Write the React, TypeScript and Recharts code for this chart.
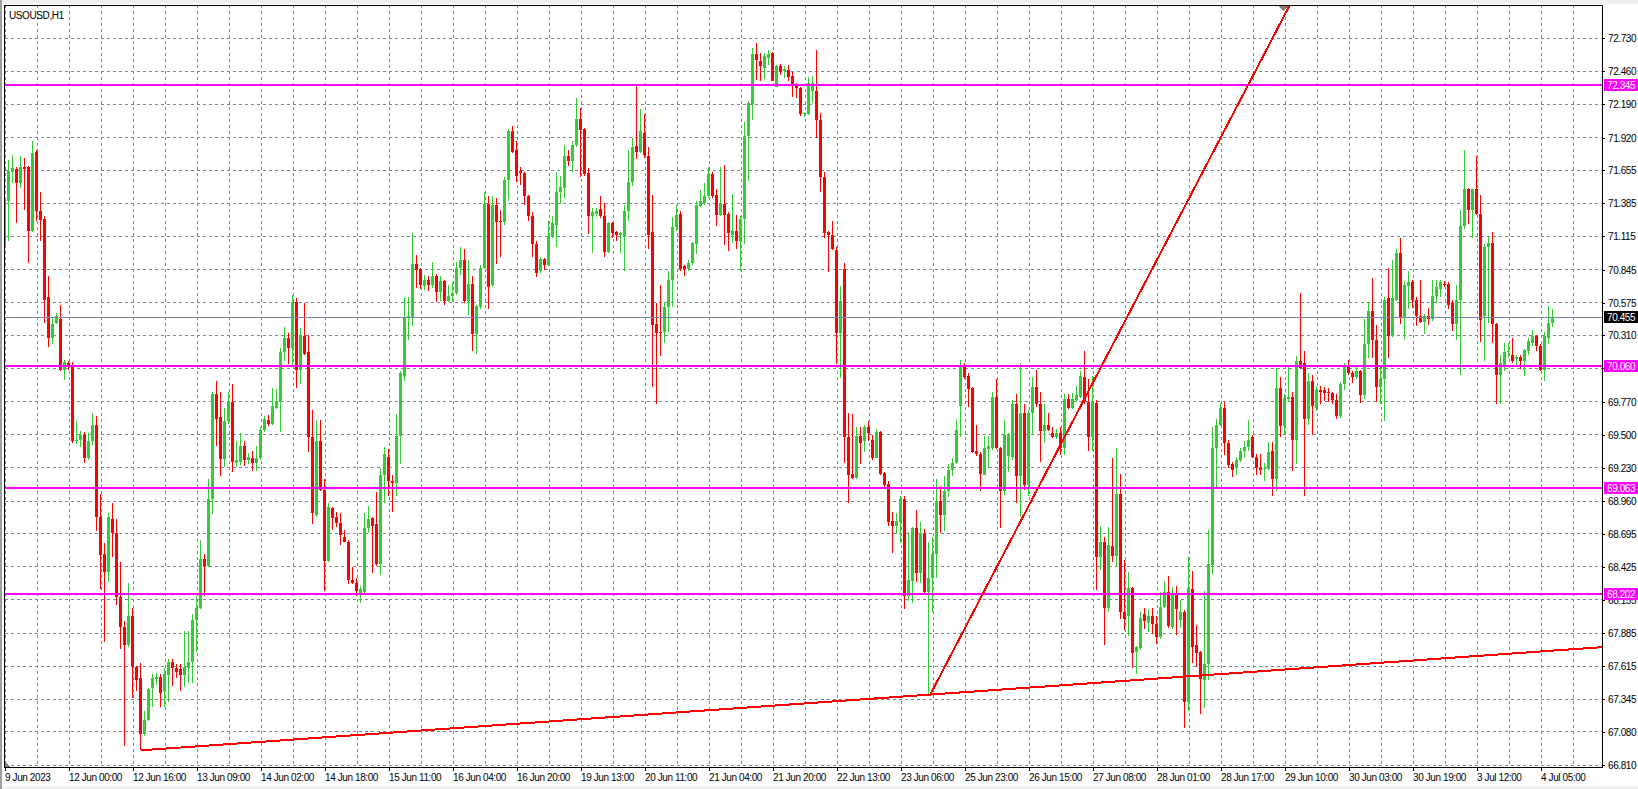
import { ComposedChart, Bar, XAxis, YAxis, CartesianGrid, ReferenceLine } from "recharts"

type OHLC = [number, number, number, number]

// hourly candles, [open, high, low, close]
const candlesA: OHLC[] = [
  [71.03, 71.46, 70.83, 71.43], [71.40, 71.74, 71.08, 71.65], [71.64, 71.78, 71.55, 71.67], [71.66, 71.68, 71.22, 71.55],
  [71.55, 71.77, 71.51, 71.68], [71.68, 71.75, 71.33, 71.66], [71.68, 71.69, 70.90, 71.16], [71.16, 71.89, 71.15, 71.79],
  [71.80, 71.82, 71.24, 71.32], [71.32, 71.48, 71.08, 71.25], [71.26, 71.28, 70.41, 70.60], [70.62, 70.79, 70.21, 70.29],
  [70.29, 70.45, 70.24, 70.40], [70.41, 70.49, 70.40, 70.47], [70.44, 70.56, 70.02, 70.03], [70.03, 70.11, 69.95, 70.09],
  [70.08, 70.10, 70.03, 70.06], [70.07, 70.09, 69.43, 69.45], [69.45, 69.61, 69.42, 69.46], [69.46, 69.53, 69.40, 69.50],
  [69.50, 69.52, 69.27, 69.31], [69.31, 69.51, 69.29, 69.45], [69.45, 69.68, 69.42, 69.58], [69.58, 69.65, 68.71, 68.83],
  [68.83, 69.02, 68.25, 68.52], [68.53, 68.62, 67.81, 68.38], [68.38, 68.86, 68.30, 68.83], [68.81, 68.94, 68.50, 68.70],
  [68.70, 68.81, 68.11, 68.18], [68.18, 68.46, 67.75, 67.93], [67.93, 67.98, 66.96, 67.79], [67.79, 68.29, 67.77, 68.02],
  [68.02, 68.09, 67.36, 67.61], [67.61, 67.62, 67.42, 67.50], [67.52, 67.64, 66.93, 67.06], [67.06, 67.25, 67.05, 67.18],
  [67.18, 67.44, 67.17, 67.43], [67.44, 67.55, 67.28, 67.52], [67.51, 67.56, 67.46, 67.53], [67.53, 67.55, 67.28, 67.40],
  [67.41, 67.60, 67.28, 67.55], [67.54, 67.67, 67.32, 67.65], [67.65, 67.67, 67.45, 67.60], [67.60, 67.63, 67.52, 67.57],
  [67.59, 67.63, 67.41, 67.54], [67.54, 67.90, 67.44, 67.61], [67.60, 67.90, 67.48, 67.65], [67.65, 68.04, 67.48, 67.99],
]

const candlesB: OHLC[] = [
  [67.99, 68.19, 67.73, 68.09], [68.09, 68.64, 68.08, 68.49], [68.49, 68.53, 68.19, 68.43], [68.43, 69.14, 68.42, 68.98],
  [68.98, 69.85, 68.86, 69.83], [69.83, 69.94, 69.41, 69.63], [69.64, 69.85, 69.17, 69.30], [69.30, 69.72, 69.24, 69.61],
  [69.61, 69.85, 69.59, 69.77], [69.77, 69.91, 69.19, 69.28], [69.27, 69.45, 69.24, 69.29], [69.28, 69.51, 69.25, 69.41],
  [69.41, 69.45, 69.25, 69.29], [69.29, 69.35, 69.26, 69.32], [69.31, 69.37, 69.21, 69.27], [69.27, 69.41, 69.21, 69.31],
  [69.31, 69.56, 69.29, 69.54], [69.54, 69.65, 69.52, 69.63], [69.62, 69.66, 69.57, 69.59], [69.59, 69.88, 69.58, 69.73],
  [69.72, 69.87, 69.71, 69.77], [69.77, 70.21, 69.53, 70.17], [70.17, 70.38, 70.10, 70.29], [70.29, 70.33, 70.08, 70.21],
  [70.21, 70.64, 70.06, 70.58], [70.58, 70.61, 69.88, 70.03], [70.03, 70.37, 69.91, 70.30], [70.30, 70.57, 70.15, 70.16],
  [70.17, 70.31, 69.36, 69.48], [69.48, 69.70, 68.77, 68.86], [68.85, 69.62, 68.83, 69.45], [69.45, 69.62, 69.04, 69.05],
  [69.05, 69.14, 68.23, 68.47], [68.47, 68.94, 68.46, 68.91], [68.90, 68.91, 68.72, 68.82], [68.83, 68.87, 68.75, 68.78],
  [68.78, 68.86, 68.60, 68.68], [68.67, 68.72, 68.62, 68.63], [68.63, 68.64, 68.28, 68.32], [68.32, 68.42, 68.28, 68.29],
  [68.29, 68.33, 68.18, 68.23], [68.21, 68.27, 68.13, 68.24], [68.22, 68.86, 68.21, 68.74], [68.74, 68.92, 68.70, 68.81],
  [68.82, 68.83, 68.37, 68.76], [68.77, 69.03, 68.43, 68.45], [68.45, 69.23, 68.36, 69.17], [69.17, 69.40, 68.94, 69.34],
]

const candlesC: OHLC[] = [
  [69.32, 69.38, 69.00, 69.12], [69.12, 69.17, 68.87, 69.11], [69.11, 69.67, 69.00, 69.49], [69.49, 70.02, 69.26, 70.00],
  [69.98, 70.62, 69.94, 70.46], [70.46, 70.62, 70.27, 70.47], [70.46, 71.14, 70.38, 70.89], [70.89, 70.96, 70.69, 70.84],
  [70.85, 70.86, 70.69, 70.72], [70.71, 70.80, 70.68, 70.76], [70.76, 70.79, 70.67, 70.72], [70.72, 70.91, 70.70, 70.79],
  [70.79, 70.81, 70.58, 70.66], [70.66, 70.79, 70.59, 70.75], [70.75, 70.76, 70.56, 70.59], [70.59, 70.72, 70.58, 70.63],
  [70.63, 70.74, 70.58, 70.65], [70.65, 70.91, 70.64, 70.86], [70.86, 71.03, 70.80, 70.92], [70.92, 71.01, 70.57, 70.59],
  [70.59, 70.92, 70.47, 70.73], [70.73, 70.79, 70.18, 70.32], [70.32, 70.56, 70.16, 70.55], [70.54, 70.88, 70.52, 70.86],
  [70.86, 71.48, 70.85, 71.38], [71.38, 71.44, 70.52, 70.70], [70.72, 71.44, 70.70, 71.37], [71.37, 71.43, 70.89, 71.23],
  [71.24, 71.33, 70.95, 71.23], [71.23, 71.60, 71.21, 71.57], [71.57, 71.99, 71.40, 71.97], [71.97, 72.01, 71.79, 71.80],
  [71.82, 71.89, 71.56, 71.61], [71.65, 71.68, 71.53, 71.63], [71.63, 71.64, 71.37, 71.44], [71.44, 71.45, 71.24, 71.28],
  [71.28, 71.31, 70.94, 71.05], [71.05, 71.08, 70.79, 70.82], [70.83, 70.95, 70.82, 70.93], [70.93, 70.94, 70.84, 70.88],
  [70.88, 71.24, 70.87, 71.12], [71.11, 71.28, 71.10, 71.22], [71.21, 71.64, 71.03, 71.48], [71.48, 71.61, 71.38, 71.52],
  [71.51, 71.86, 71.43, 71.77], [71.77, 71.82, 71.69, 71.73], [71.73, 71.89, 71.64, 71.86], [71.86, 72.24, 71.84, 72.07],
]

const candlesD: OHLC[] = [
  [72.07, 72.16, 71.60, 71.98], [71.99, 72.00, 71.61, 71.62], [71.63, 71.67, 71.13, 71.28], [71.28, 71.35, 70.98, 71.31],
  [71.30, 71.35, 71.28, 71.32], [71.34, 71.44, 71.26, 71.28], [71.28, 71.39, 70.95, 70.99], [70.99, 71.23, 70.98, 71.22],
  [71.22, 71.23, 71.10, 71.14], [71.15, 71.16, 71.08, 71.13], [71.13, 71.15, 70.98, 71.14], [71.11, 71.37, 70.83, 71.32],
  [71.32, 71.82, 71.24, 71.56], [71.56, 71.92, 71.53, 71.84], [71.85, 72.35, 71.75, 71.80], [71.80, 72.15, 71.79, 71.97],
  [71.96, 72.11, 71.75, 71.78], [71.77, 71.84, 71.01, 71.13], [71.15, 71.45, 69.89, 70.39], [70.40, 70.57, 69.75, 70.33],
  [70.34, 70.72, 70.14, 70.33], [70.34, 70.58, 70.25, 70.54], [70.54, 70.83, 70.33, 70.76], [70.76, 71.27, 70.54, 71.19],
  [71.19, 71.37, 71.16, 71.29], [71.30, 71.32, 70.83, 70.85], [70.87, 70.88, 70.79, 70.85], [70.85, 70.92, 70.83, 70.90],
  [70.90, 71.07, 70.88, 71.06], [71.05, 71.40, 70.97, 71.37], [71.36, 71.49, 71.35, 71.40], [71.39, 71.55, 71.37, 71.44],
  [71.44, 71.68, 71.43, 71.62], [71.62, 71.64, 71.43, 71.44], [71.45, 71.50, 71.20, 71.29], [71.29, 71.68, 71.28, 71.38],
  [71.38, 71.70, 71.05, 71.29], [71.30, 71.31, 70.99, 71.14], [71.13, 71.46, 71.06, 71.16], [71.16, 71.29, 71.01, 71.08],
  [71.08, 71.28, 70.83, 71.26], [71.26, 72.05, 71.06, 71.93], [71.93, 72.22, 71.57, 72.20], [72.19, 72.65, 72.06, 72.60],
  [72.60, 72.69, 72.39, 72.55], [72.54, 72.61, 72.38, 72.50], [72.49, 72.61, 72.40, 72.58], [72.57, 72.63, 72.51, 72.60],
]

const candlesE: OHLC[] = [
  [72.61, 72.62, 72.38, 72.38], [72.33, 72.51, 72.33, 72.50], [72.50, 72.52, 72.43, 72.45], [72.46, 72.50, 72.40, 72.48],
  [72.47, 72.51, 72.38, 72.41], [72.42, 72.45, 72.25, 72.34], [72.34, 72.36, 72.24, 72.32], [72.32, 72.33, 72.09, 72.11],
  [72.11, 72.13, 72.09, 72.12], [72.11, 72.41, 72.10, 72.36], [72.30, 72.42, 72.20, 72.36], [72.30, 72.63, 71.91, 72.06],
  [72.06, 72.12, 71.48, 71.60], [71.60, 71.64, 71.10, 71.14], [71.15, 71.16, 70.83, 71.13], [71.13, 71.24, 71.00, 71.01],
  [71.00, 71.03, 70.08, 70.33], [70.33, 70.71, 69.96, 70.59], [70.85, 70.90, 69.27, 69.48], [69.48, 69.68, 68.95, 69.17],
  [69.18, 69.67, 69.14, 69.15], [69.15, 69.56, 69.14, 69.49], [69.49, 69.56, 69.26, 69.43], [69.45, 69.58, 69.36, 69.56],
  [69.56, 69.61, 69.45, 69.51], [69.46, 69.50, 69.30, 69.31], [69.31, 69.55, 69.31, 69.52], [69.52, 69.53, 69.17, 69.18],
  [69.19, 69.20, 69.06, 69.09], [69.10, 69.12, 68.75, 68.79], [68.80, 68.87, 68.54, 68.76], [68.76, 68.86, 68.69, 68.80],
  [68.79, 69.00, 68.62, 68.98], [68.98, 69.00, 68.08, 68.19], [68.19, 68.71, 68.15, 68.32], [68.31, 68.75, 68.13, 68.74],
  [68.74, 68.89, 68.30, 68.37], [68.37, 68.79, 68.29, 68.70], [68.70, 68.73, 68.19, 68.22], [68.22, 68.63, 67.38, 68.33],
  [68.33, 68.67, 68.06, 68.53], [68.53, 69.14, 68.33, 68.96], [68.96, 69.08, 68.70, 68.85], [68.85, 69.16, 68.71, 69.04],
  [69.04, 69.26, 68.99, 69.21], [69.21, 69.31, 69.16, 69.27], [69.27, 69.63, 69.26, 69.54], [69.73, 70.11, 69.48, 70.06],
]

const candlesF: OHLC[] = [
  [70.06, 70.08, 69.95, 69.97], [69.98, 70.00, 69.72, 69.87], [69.88, 69.89, 69.35, 69.36], [69.37, 69.58, 69.33, 69.34],
  [69.34, 69.36, 69.04, 69.18], [69.17, 69.49, 69.17, 69.39], [69.38, 69.49, 69.23, 69.41], [69.39, 69.85, 69.38, 69.81],
  [69.81, 69.95, 69.38, 69.39], [69.39, 69.40, 68.74, 69.04], [69.04, 69.62, 69.01, 69.50], [69.33, 69.51, 69.19, 69.50],
  [69.32, 69.78, 69.29, 69.75], [69.75, 69.83, 68.94, 69.16], [69.16, 70.08, 68.83, 69.68], [69.68, 69.75, 69.05, 69.09],
  [69.09, 69.70, 69.00, 69.68], [69.68, 69.97, 69.50, 69.89], [69.89, 70.03, 69.73, 69.75], [69.75, 69.85, 69.28, 69.53],
  [69.53, 69.75, 69.43, 69.58], [69.58, 69.68, 69.53, 69.54], [69.51, 69.56, 69.47, 69.48], [69.48, 69.55, 69.47, 69.51],
  [69.51, 69.56, 69.33, 69.39], [69.39, 69.83, 69.33, 69.79], [69.79, 69.83, 69.71, 69.72], [69.72, 69.84, 69.71, 69.79],
  [69.78, 69.90, 69.77, 69.82], [69.81, 70.02, 69.80, 69.98], [69.97, 70.18, 69.75, 69.77], [69.77, 69.95, 69.36, 69.48],
  [69.48, 69.98, 69.37, 69.77], [69.76, 69.78, 68.23, 68.50], [68.50, 68.76, 68.40, 68.63], [68.63, 68.67, 67.79, 68.09],
  [68.09, 68.75, 68.06, 68.60], [68.59, 69.31, 68.46, 68.51], [68.51, 69.39, 68.42, 69.02], [69.02, 69.18, 68.00, 68.06],
  [68.06, 68.48, 67.91, 68.00], [68.02, 68.38, 67.86, 68.25], [68.25, 68.26, 67.60, 67.72], [67.73, 67.78, 67.55, 67.77],
  [67.76, 68.06, 67.75, 68.01], [68.04, 68.09, 67.92, 67.98], [67.97, 68.08, 67.89, 68.02], [68.02, 68.09, 67.88, 67.96],
]

const candlesG: OHLC[] = [
  [67.96, 68.02, 67.79, 67.85], [67.85, 68.22, 67.84, 68.10], [68.10, 68.31, 68.09, 68.22], [68.22, 68.35, 67.93, 67.94],
  [67.93, 68.26, 67.92, 68.20], [68.20, 68.27, 67.87, 68.08], [67.99, 68.15, 67.92, 68.06], [68.06, 68.07, 67.11, 67.32],
  [67.32, 68.50, 67.25, 68.25], [68.24, 68.39, 67.64, 67.77], [67.79, 67.95, 67.61, 67.72], [67.73, 67.74, 67.23, 67.51],
  [67.50, 68.23, 67.28, 67.63], [67.63, 68.72, 67.50, 68.45], [68.44, 69.56, 68.36, 69.39], [69.39, 69.63, 69.08, 69.58],
  [69.58, 69.76, 69.57, 69.72], [69.72, 69.77, 69.34, 69.43], [69.43, 69.46, 69.23, 69.25], [69.26, 69.28, 69.16, 69.21],
  [69.23, 69.32, 69.17, 69.29], [69.29, 69.39, 69.28, 69.37], [69.37, 69.45, 69.31, 69.40], [69.40, 69.62, 69.37, 69.46],
  [69.48, 69.50, 69.31, 69.32], [69.32, 69.34, 69.17, 69.23], [69.23, 69.34, 69.17, 69.21], [69.22, 69.27, 69.12, 69.23],
  [69.22, 69.44, 69.21, 69.36], [69.37, 69.44, 69.00, 69.14], [69.14, 70.04, 69.04, 69.88], [69.88, 69.97, 69.48, 69.57],
  [69.57, 69.83, 69.50, 69.80], [69.79, 70.07, 69.77, 69.81], [69.81, 69.85, 69.21, 69.46], [69.46, 70.14, 69.26, 70.10],
  [70.10, 70.65, 70.03, 70.04], [70.08, 70.18, 69.00, 69.63], [69.63, 70.00, 69.58, 69.94], [69.94, 69.99, 69.50, 69.73],
  [69.72, 69.90, 69.70, 69.86], [69.86, 69.90, 69.75, 69.85], [69.86, 69.89, 69.78, 69.84], [69.85, 69.88, 69.77, 69.84],
  [69.84, 69.85, 69.75, 69.78], [69.78, 69.83, 69.63, 69.65], [69.65, 69.93, 69.64, 69.91], [69.91, 70.08, 69.86, 70.06],
]

const candlesH: OHLC[] = [
  [70.06, 70.11, 69.99, 70.00], [70.00, 70.02, 69.92, 69.97], [69.97, 70.05, 69.95, 70.02], [70.02, 70.03, 69.76, 69.82],
  [69.82, 70.44, 69.79, 70.24], [70.24, 70.58, 70.12, 70.51], [70.51, 70.78, 70.13, 70.27], [70.27, 70.39, 69.76, 69.89],
  [69.89, 70.06, 69.75, 69.95], [69.95, 70.62, 69.61, 70.60], [70.61, 70.86, 70.13, 70.30], [70.30, 70.92, 70.29, 70.61],
  [70.60, 71.01, 70.59, 70.98], [70.98, 71.10, 70.40, 70.46], [70.46, 70.75, 70.27, 70.72], [70.71, 70.83, 70.52, 70.74],
  [70.74, 70.76, 70.53, 70.60], [70.60, 70.62, 70.38, 70.47], [70.47, 70.76, 70.41, 70.42], [70.42, 70.48, 70.32, 70.47],
  [70.47, 70.53, 70.39, 70.44], [70.44, 70.76, 70.43, 70.63], [70.63, 70.76, 70.57, 70.70], [70.69, 70.76, 70.62, 70.74],
  [70.73, 70.75, 70.70, 70.72], [70.73, 70.74, 70.52, 70.56], [70.57, 70.60, 70.35, 70.40], [70.40, 70.72, 70.27, 70.60],
  [70.60, 71.33, 69.99, 71.20], [71.20, 71.82, 71.18, 71.50], [71.50, 71.51, 71.22, 71.33], [71.33, 71.50, 71.10, 71.50],
  [71.50, 71.77, 71.29, 71.30], [71.30, 71.45, 70.25, 70.43], [70.47, 71.05, 70.10, 71.03], [71.03, 71.12, 70.41, 71.06],
  [71.06, 71.15, 70.25, 70.40], [70.40, 70.41, 69.75, 69.99], [69.99, 70.15, 69.75, 70.08], [70.07, 70.25, 70.02, 70.17],
  [70.17, 70.25, 70.13, 70.18], [70.15, 70.29, 70.09, 70.10], [70.12, 70.15, 70.06, 70.13], [70.13, 70.15, 70.04, 70.10],
  [70.10, 70.20, 69.98, 70.19], [70.18, 70.29, 70.15, 70.26], [70.25, 70.35, 70.22, 70.30], [70.30, 70.31, 70.18, 70.22],
  [70.22, 70.24, 70.02, 70.03], [70.03, 70.34, 69.94, 70.30], [70.29, 70.55, 70.24, 70.41], [70.41, 70.52, 70.37, 70.455],
]

const timeLabels = [
  "9 Jun 2023", "12 Jun 00:00", "12 Jun 16:00", "13 Jun 09:00", "14 Jun 02:00", "14 Jun 18:00",
  "15 Jun 11:00", "16 Jun 04:00", "16 Jun 20:00", "19 Jun 13:00", "20 Jun 11:00", "21 Jun 04:00",
  "21 Jun 20:00", "22 Jun 13:00", "23 Jun 06:00", "25 Jun 23:00", "26 Jun 15:00", "27 Jun 08:00",
  "28 Jun 01:00", "28 Jun 17:00", "29 Jun 10:00", "30 Jun 03:00", "30 Jun 19:00", "3 Jul 12:00", "4 Jul 05:00",
]

const priceTicks = [
  72.73, 72.46, 72.19, 71.92, 71.655, 71.385, 71.115, 70.845, 70.575, 70.31, 70.04, 69.77,
  69.5, 69.23, 68.96, 68.695, 68.425, 68.155, 67.885, 67.615, 67.345, 67.08, 66.81,
]

const levels = [72.345, 70.06, 69.063, 68.202]
const bid = 70.455

// trend lines, anchored at (bar index, price)
const supportLine = [{ x: 34, y: 66.93 }, { x: 399.25, y: 67.77 }]
const steepLine = [{ x: 231.25, y: 67.38 }, { x: 321.2, y: 72.999 }]

const BARS_PER_LABEL = 16
const BARS_PER_GRID = 8

const candles = [
  ...candlesA, ...candlesB, ...candlesC, ...candlesD,
  ...candlesE, ...candlesF, ...candlesG, ...candlesH,
]
const data = candles.map(([o, h, l, c], i) => ({ i, o, h, l, c, range: [l, h] }))

const gridTicks: number[] = []
for (let b = 0; b <= 392; b += BARS_PER_GRID) gridTicks.push(b)

// price tags go after the plain ticks so they are drawn on top of them
const yTicks = [...priceTicks, bid, ...levels]

const axisFont = {
  fontFamily: '"Liberation Sans", Arial, sans-serif',
  fontSize: 10,
  letterSpacing: -0.4,
}

function Candle(props: any) {
  const { x, y, width, height, payload } = props
  if (x == null || !payload) return null
  const { o, h, l, c } = payload
  const top = Math.min(y, y + height)
  const hgt = Math.abs(height)
  const span = h - l
  const py = (v: number) => (span > 0 ? top + ((h - v) / span) * hgt : top)
  const color = c >= o ? "#32cd32" : "#ff0000"
  const cx = Math.floor(x + width / 2)
  const bTop = Math.round(py(Math.max(o, c)))
  const bBot = Math.round(py(Math.min(o, c)))
  return (
    <g>
      <rect x={cx} y={Math.round(top)} width={1} height={Math.max(1, Math.round(hgt))} fill={color} />
      <rect x={cx - 1} y={bTop} width={3} height={Math.max(1, bBot - bTop)} fill={color} />
    </g>
  )
}

function TimeTick(props: any) {
  const { x, y, payload } = props
  const v = payload.value
  if (v % BARS_PER_LABEL !== 0) return null
  const label = timeLabels[v / BARS_PER_LABEL]
  if (!label) return null
  const px = Math.round(x)
  return (
    <g>
      <rect x={px} y={y} width={1} height={4} fill="#000" />
      <text x={px} y={y + 13.5} style={axisFont} fill="#000">
        {label}
      </text>
    </g>
  )
}

function PriceTick(props: any) {
  const { x, y, payload } = props
  const v = Number(payload.value)
  const py = Math.round(y)
  const isLevel = levels.includes(v)
  if (isLevel || v === bid) {
    return (
      <g>
        <rect x={x + 2} y={py - 6} width={34} height={12} fill={isLevel ? "#ff00ff" : "#000"} />
        <text x={x + 5} y={py + 4} fill="#fff" style={axisFont}>
          {v.toFixed(3)}
        </text>
      </g>
    )
  }
  return (
    <g>
      <rect x={x} y={py} width={3} height={1} fill="#000" />
      <text x={x + 6} y={py + 4} style={axisFont} fill="#000">
        {v.toFixed(3)}
      </text>
    </g>
  )
}

export default function App() {
  return (
    <div
      style={{
        position: "absolute",
        left: 0,
        top: 0,
        width: 1638,
        height: 789,
        background: "#fff",
        shapeRendering: "crispEdges",
      }}
    >
      <ComposedChart
        width={1638}
        height={789}
        data={data}
        margin={{ top: 5, right: 0, bottom: 0, left: 5 }}
      >
        <CartesianGrid stroke="#778899" strokeDasharray="3 3" horizontalValues={priceTicks} />
        <XAxis
          dataKey="i"
          type="number"
          domain={[0, 399.25]}
          allowDataOverflow
          ticks={gridTicks}
          interval={0}
          height={22}
          axisLine={false}
          tickLine={false}
          tickSize={0}
          tickMargin={0}
          tick={<TimeTick />}
        />
        <YAxis
          orientation="right"
          type="number"
          domain={[66.794, 72.999]}
          allowDataOverflow
          ticks={yTicks}
          interval={0}
          width={36}
          axisLine={false}
          tickLine={false}
          tickSize={0}
          tickMargin={0}
          tick={<PriceTick />}
        />
        <Bar dataKey="range" barSize={3} isAnimationActive={false} shape={(p: any) => <Candle {...p} />} />
        <ReferenceLine y={bid} stroke="#778899" strokeWidth={1} />
        {levels.map((v) => (
          <ReferenceLine key={v} y={v} stroke="#ff00ff" strokeWidth={2} />
        ))}
        <ReferenceLine segment={supportLine} stroke="#ff0000" strokeWidth={2} ifOverflow="visible" />
        <ReferenceLine segment={steepLine} stroke="#ff0000" strokeWidth={2} ifOverflow="visible" />
      </ComposedChart>
      <svg
        width={1638}
        height={789}
        style={{ position: "absolute", left: 0, top: 0, pointerEvents: "none" }}
      >
        <rect x={0} y={0} width={1638} height={4} fill="#f0f0f0" />
        <rect x={0} y={786} width={1638} height={3} fill="#f0f0f0" />
        <rect x={0} y={0} width={2} height={789} fill="#a0a0a0" />
        <rect x={4} y={5} width={1599} height={1} fill="#000" />
        <rect x={4} y={5} width={1} height={763} fill="#000" />
        <rect x={4} y={767} width={1599} height={1} fill="#000" />
        <rect x={1602} y={5} width={1} height={763} fill="#000" />
        <polygon points="1279,6 1288,6 1283.5,11" fill="#808080" />
        <polygon points="5,762 10,767 5,767" fill="#808080" />
        <text x={9} y={18.5} style={axisFont} fill="#000">
          USOUSD,H1
        </text>
      </svg>
    </div>
  )
}
